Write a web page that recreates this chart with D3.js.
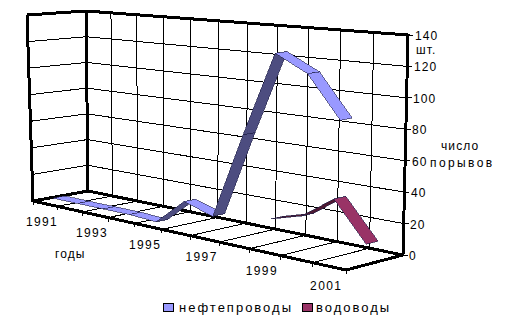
<!DOCTYPE html>
<html>
<head>
<meta charset="utf-8">
<script src="https://cdn.jsdelivr.net/npm/d3@7"></script>
<style>
  html, body { margin: 0; padding: 0; background: #fff; }
  text { font-family: "Liberation Sans", Arial, sans-serif; font-size: 12px; letter-spacing: 1.1px; fill: #000; }
</style>
</head>
<body>
<div id="chart"></div>
<script>
var years = [1991, 1992, 1993, 1994, 1995, 1996, 1997, 1998, 1999, 2000, 2001];
var yearLabels = [1991, 1993, 1995, 1997, 1999, 2001];
var seriesNames = ['нефтепроводы', 'водоводы'];
var oilPipes = [3, 3, 3, 3, 2, 20, 14, 72, 128, 117, 90];
var waterPipes = [null, null, null, null, null, null, null, 12, 18, 33, 8];
var seriesColors = ['#9999ff', '#993366'];
var darkColors = ['#4d4d80', '#4d1a33'];

var width = 517, height = 324;
var svg = d3.select('#chart').append('svg')
  .attr('width', width).attr('height', height)
  .style('display', 'block');

// box corners as seen on screen: front left, front right, back right, back left
var floorQuad = [[33, 201], [346, 270], [403, 255], [88, 191]];
var topQuad = [[27, 15], [351, 43], [408, 35], [86, 11]];

var xScale = d3.scaleBand().domain(years).range([0, 1]);
var depthScale = d3.scaleBand().domain(seriesNames).range([0, 1]);
var yScale = d3.scaleLinear().domain([0, 140]).range([0, 1]);

// the years spread out towards the right, like on the back wall of the original
function warp(u) { return u / (1.19 - 0.19 * u); }

function quadAt(q, u, v) {
  var s = warp(u), mix = d3.interpolateArray;
  return mix(mix(q[0], q[1])(s), mix(q[3], q[2])(s))(v);
}

function project(u, v, value) {
  return d3.interpolateArray(quadAt(floorQuad, u, v), quadAt(topQuad, u, v))(yScale(value));
}

var line = d3.line();
var grid = svg.append('g').attr('shape-rendering', 'crispEdges').attr('fill', 'none').attr('stroke', '#000');

function thin(points) { grid.append('path').attr('d', line(points)).attr('stroke-width', 1); }
function thick(points) { grid.append('path').attr('d', line(points)).attr('stroke-width', 3); }

var uLines = d3.range(years.length + 1).map(function(i) { return i / years.length; });
var ticks = yScale.ticks(7);

// grid: floor, back wall, left wall
uLines.forEach(function(u) {
  thin([project(u, 0, 0), project(u, 1, 0)]);
  thin([project(u, 1, 0), project(u, 1, 140)]);
  thin([project(u, 0, 0), [project(u, 0, 0)[0], project(u, 0, 0)[1] + 4]]);
});
ticks.forEach(function(t) {
  thin([project(0, 0, t), project(0, 1, t), project(1, 1, t)]);
  var p = project(1, 1, t);
  thin([p, [p[0] + 5, p[1]]]);
});

// box edges
thick([project(0, 0, 140), project(0, 1, 140), project(1, 1, 140), project(1, 1, 0), project(1, 0, 0), project(0, 0, 0), project(0, 0, 140)]);
thick([project(0, 1, 140), project(0, 1, 0), project(1, 1, 0)]);
thick([project(0, 0, 0), project(0, 1, 0)]);

// ribbons, the back series first
var ribbon = 0.42;
[[waterPipes, 1], [oilPipes, 0]].forEach(function(s) {
  var values = s[0], k = s[1], name = seriesNames[k],
    v0 = depthScale(name) + depthScale.bandwidth() * (1 - ribbon) / 2,
    v1 = v0 + depthScale.bandwidth() * ribbon,
    g = svg.append('g').attr('shape-rendering', 'crispEdges');
  d3.pairs(d3.range(years.length)).forEach(function(pair) {
    var a = values[pair[0]], b = values[pair[1]];
    if (a === null || b === null) return;
    var ua = xScale(years[pair[0]]) + xScale.bandwidth() / 2,
      ub = xScale(years[pair[1]]) + xScale.bandwidth() / 2;
    g.append('path')
      .attr('d', line([project(ua, v0, a), project(ub, v0, b), project(ub, v1, b), project(ua, v1, a)]) + 'Z')
      .attr('fill', b > a + 2 ? darkColors[k] : seriesColors[k])
      .attr('stroke', '#22224a')
      .attr('stroke-width', 0.6);
  });
});

// value labels
var labelsX = d3.scaleLinear().domain([0, 140]).range([409, 415]);
ticks.forEach(function(t) {
  svg.append('text')
    .attr('x', Math.round(labelsX(t)))
    .attr('y', Math.round(project(1, 1, t)[1]) + 5)
    .text(t);
});
svg.append('text').attr('x', 416).attr('y', 54).text('шт.');
svg.append('text').attr('x', 441).attr('y', 150).text('число');
svg.append('text').attr('x', 430).attr('y', 167).style('letter-spacing', '2.4px').text('порывов');
svg.append('text').attr('x', 55).attr('y', 258).text('годы');

// year labels under the front edge
var labelDrop = [22, 22, 23, 22, 23, 24];
yearLabels.forEach(function(y, i) {
  var p = project(xScale(y) + xScale.bandwidth() / 2, 0, 0);
  svg.append('text')
    .attr('x', p[0] - 3)
    .attr('y', p[1] + labelDrop[i])
    .attr('text-anchor', 'middle')
    .style('letter-spacing', '1.4px')
    .text(y);
});

// legend
var legendX = [163, 302], legendTextX = [179, 316];
seriesNames.forEach(function(name, i) {
  svg.append('rect')
    .attr('x', legendX[i] + 0.5).attr('y', 303.5)
    .attr('width', 10).attr('height', 8)
    .attr('fill', seriesColors[i]).attr('stroke', '#000');
  svg.append('text')
    .attr('x', legendTextX[i]).attr('y', 312)
    .style('font-size', '13px').style('letter-spacing', '2px')
    .text(name);
});
</script>
</body>
</html>
